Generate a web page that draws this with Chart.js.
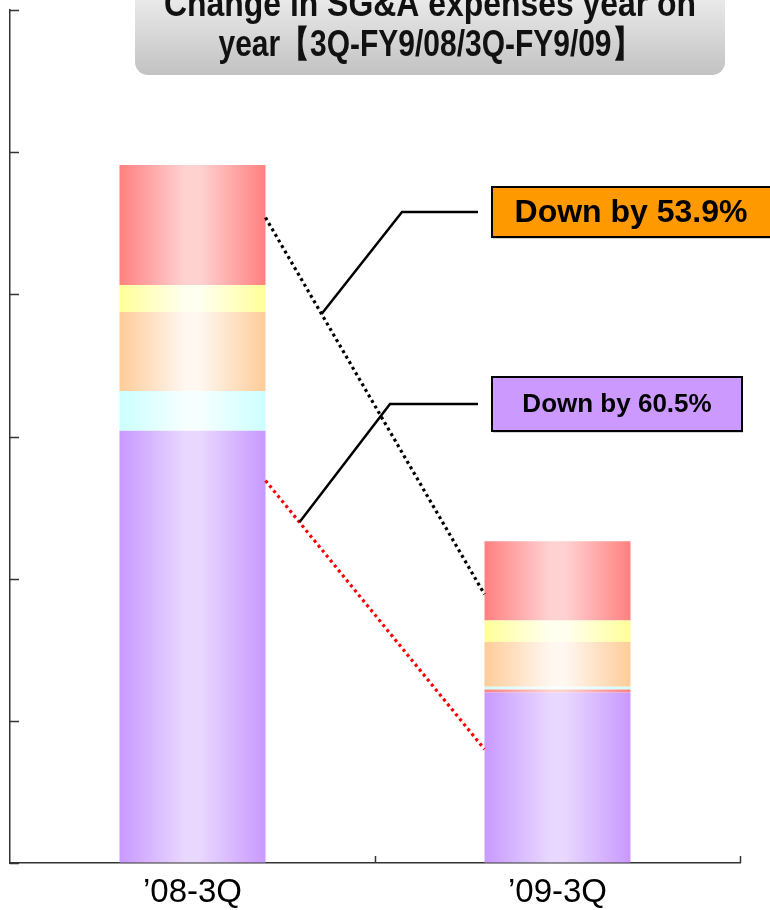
<!DOCTYPE html>
<html>
<head>
<meta charset="utf-8">
<script src="https://cdn.jsdelivr.net/npm/chart.js@4/dist/chart.umd.min.js"></script>
<style>
   body { margin: 0; background: #fff; }
   #wrap { width: 770px; height: 910px; position: relative; }
</style>
</head>
<body>
<div id="wrap"><canvas id="graphique"></canvas></div>
<script>
// periods and stacked segments (bottom to top)
const periods = ['’08-3Q', '’09-3Q'];
const purpleSeg = [30.4, 12.0];
const redThinSeg = [0, 0.2];
const cyanSeg = [2.8, 0.2];
const orangeSeg = [5.55, 3.15];
const yellowSeg = [1.9, 1.5];
const redSeg = [8.45, 5.58];

// connector levels between the two bars
const totalLink = [45.4, 18.9];
const purpleLink = [26.9, 8.0];

const callouts = ['Down by 53.9%', 'Down by 60.5%'];
const titleLines = ['Change in SG&A expenses year on', 'year【3Q-FY9/08/3Q-FY9/09】'];
const yTicks = [0, 10, 20, 30, 40, 50, 60];

const ctx = document.getElementById('graphique');

// horizontal shading across each bar: saturated edges, pale centre
function shade(edge, mid) {
   return function (context) {
      const chart = context.chart;
      const x = chart.scales.x;
      if (!chart.chartArea || !x) return edge;
      const c = x.getPixelForValue(context.dataIndex);
      const half = (x.width / periods.length) * 0.4 / 2;
      const g = chart.ctx.createLinearGradient(c - half, 0, c + half, 0);
      g.addColorStop(0, edge);
      g.addColorStop(0.45, mid);
      g.addColorStop(0.55, mid);
      g.addColorStop(1, edge);
      return g;
   };
}

function segment(data, edge, mid) {
   return {
      data: data,
      backgroundColor: shade(edge, mid),
      borderWidth: 0,
      barPercentage: 0.4,
      categoryPercentage: 1
   };
}

const decor = {
   id: 'decor',
   afterDraw(chart) {
      const c = chart.ctx;
      const x = chart.scales.x;
      const y = chart.scales.y;
      const area = chart.chartArea;
      const half = (x.width / periods.length) * 0.4 / 2;

      // inward ticks
      c.save();
      c.strokeStyle = '#333';
      c.lineWidth = 1.5;
      yTicks.forEach(v => {
         const py = Math.round(y.getPixelForValue(v)) + 0.5;
         c.beginPath();
         c.moveTo(area.left, py);
         c.lineTo(area.left + 9, py);
         c.stroke();
      });
      [0.5, 1.5].forEach(v => {
         const px = Math.round(x.getPixelForValue(v)) + 0.5;
         c.beginPath();
         c.moveTo(px, area.bottom);
         c.lineTo(px, area.bottom - 7);
         c.stroke();
      });
      c.restore();

      // dotted connectors
      const x0 = x.getPixelForValue(0) + half;
      const x1 = x.getPixelForValue(1) - half;
      function dotted(levels, color) {
         c.save();
         c.strokeStyle = color;
         c.lineWidth = 3.2;
         c.setLineDash([3, 3.4]);
         c.beginPath();
         c.moveTo(x0, y.getPixelForValue(levels[0]));
         c.lineTo(x1, y.getPixelForValue(levels[1]));
         c.stroke();
         c.restore();
      }
      dotted(totalLink, '#000');
      dotted(purpleLink, '#ff0000');

      // callout boxes with leader lines
      function along(levels, t) {
         const ya = y.getPixelForValue(levels[0]);
         const yb = y.getPixelForValue(levels[1]);
         return [x0 + (x1 - x0) * t, ya + (yb - ya) * t];
      }
      function callout(text, levels, t, elbowX, box, fill, size) {
         const p = along(levels, t);
         const my = (box.top + box.bottom) / 2;
         c.save();
         c.strokeStyle = '#000';
         c.lineWidth = 2.5;
         c.beginPath();
         c.moveTo(p[0], p[1]);
         c.lineTo(elbowX, my);
         c.lineTo(box.left - 14, my);
         c.stroke();
         c.shadowColor = 'rgba(0,0,0,0.35)';
         c.shadowOffsetX = 1;
         c.shadowOffsetY = 1.5;
         c.fillStyle = fill;
         c.fillRect(box.left, box.top, box.right - box.left, box.bottom - box.top);
         c.shadowColor = 'transparent';
         c.lineWidth = 2;
         c.strokeRect(box.left, box.top, box.right - box.left, box.bottom - box.top);
         c.fillStyle = '#000';
         c.font = 'bold ' + size + 'px "Liberation Sans", Arial, sans-serif';
         c.textAlign = 'center';
         c.textBaseline = 'middle';
         c.fillText(text, box.textX, my + 1);
         c.restore();
      }
      callout(callouts[0], totalLink, 0.256, 402,
         {left: 492, right: 772, top: 187, bottom: 237, textX: 631}, '#ff9900', 32);
      callout(callouts[1], purpleLink, 0.155, 390,
         {left: 492, right: 742, top: 377, bottom: 431, textX: 617}, '#cc99ff', 26);

      // title plate
      c.save();
      const g = c.createLinearGradient(0, -20, 0, 75);
      g.addColorStop(0, '#f4f4f4');
      g.addColorStop(1, '#c2c2c2');
      c.fillStyle = g;
      c.beginPath();
      c.roundRect(135, -30, 590, 105, 13);
      c.fill();
      c.fillStyle = '#111';
      c.font = 'bold 36px "Liberation Sans", Arial, sans-serif';
      c.textAlign = 'center';
      c.textBaseline = 'alphabetic';
      [[titleLines[0], 16, 532], [titleLines[1], 56, 423]].forEach(([t, base, w]) => {
         const sx = w / c.measureText(t).width;
         c.save();
         c.translate(430, base);
         c.scale(sx, 1);
         c.fillText(t, 0, 0);
         c.restore();
      });
      c.restore();
   }
};

new Chart(ctx, {
   type: 'bar',
   data: {
      labels: periods,
      datasets: [
         segment(purpleSeg, '#c899ff', '#e8d8ff'),
         segment(redThinSeg, '#ff8080', '#ffd0d0'),
         segment(cyanSeg, '#ccffff', '#f6ffff'),
         segment(orangeSeg, '#ffcc99', '#fff7f0'),
         segment(yellowSeg, '#ffff99', '#fffff0'),
         segment(redSeg, '#ff8080', '#ffd2d2')
      ]
   },
   options: {
      responsive: true,
      maintainAspectRatio: false,
      animation: false,
      layout: {
         padding: { left: 10, right: 30, top: 10, bottom: 0 }
      },
      scales: {
         x: {
            stacked: true,
            afterFit: s => { s.height = 47; },
            ticks: {
               padding: 10,
               color: '#000',
               font: { size: 33, family: '"Liberation Sans", Arial, sans-serif' }
            },
            grid: { drawOnChartArea: false, drawTicks: false },
            border: { display: true, color: '#333', width: 1.5 }
         },
         y: {
            stacked: true,
            min: 0,
            max: 60,
            afterFit: s => { s.width = 0; },
            ticks: { display: false, stepSize: 10 },
            grid: { drawOnChartArea: false, drawTicks: false },
            border: { display: true, color: '#333', width: 1.5 }
         }
      },
      plugins: {
         legend: { display: false },
         tooltip: { enabled: false }
      }
   },
   plugins: [decor]
});
</script>
</body>
</html>
